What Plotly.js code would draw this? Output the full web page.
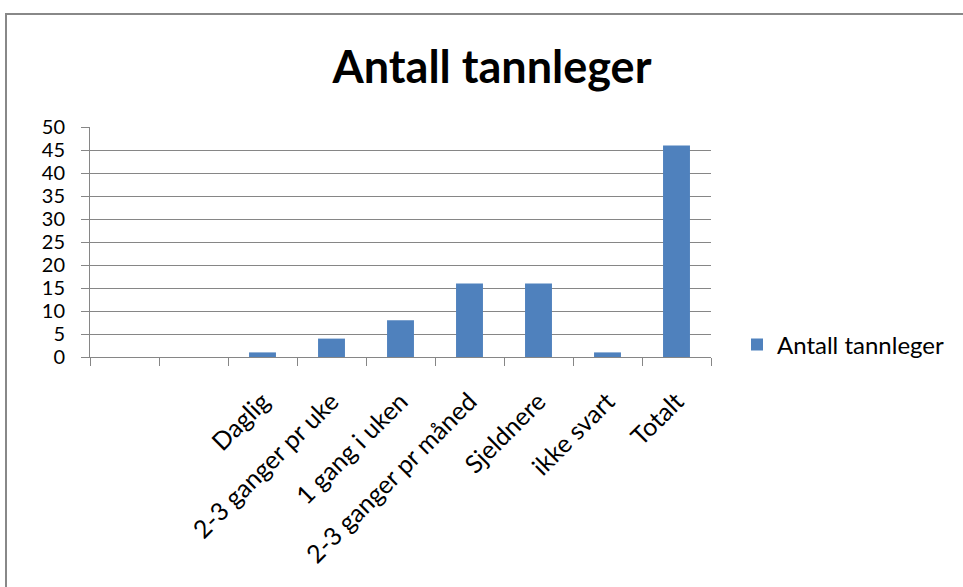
<!DOCTYPE html>
<html>
<head>
<meta charset="utf-8">
<script src="https://cdn.plot.ly/plotly-3.0.1.min.js"></script>
<style>html,body{margin:0;padding:0;background:#fff;}#chart{width:963px;height:587px;}</style>
</head>
<body>
<div id="chart"></div>
<script>
var categories = ["\u00a0", "\u00a0\u00a0", "Daglig", "2-3 ganger pr uke", "1 gang i uken", "2-3 ganger pr måned", "Sjeldnere", "ikke svart", "Totalt"];
var values = [null, null, 1, 4, 8, 16, 16, 1, 46];
var seriesName = "Antall tannleger";
var chartTitle = "Antall tannleger";
var yTicks = [0, 5, 10, 15, 20, 25, 30, 35, 40, 45, 50];

var FONT = "Lato, 'Open Sans', sans-serif";
var grid = "#868686";
var L = 90, R = 711, T = 127, B = 357;
function px(x){ return (x - L) / (R - L); }
function py(y){ return (B - y) / (B - T); }

var trace = {
  type: "bar",
  x: categories,
  y: values,
  name: seriesName,
  marker: { color: "#4F81BD" },
  showlegend: true,
  hoverinfo: "x+y"
};

var layout = {
  width: 963, height: 587,
  margin: { l: L, r: 963 - R, t: T, b: 587 - B, pad: 0 },
  paper_bgcolor: "#fff", plot_bgcolor: "#fff",
  font: { family: FONT, color: "#000", size: 18 },
  title: { text: "<b>" + chartTitle + "</b>", font: { family: FONT, size: 45, color: "#000" },
           x: 492 / 963, xanchor: "center", xref: "container", y: 1 - 67 / 587, yanchor: "middle", yref: "container" },
  bargap: 0.61,
  xaxis: {
    type: "category", categoryorder: "array", categoryarray: categories,
    range: [-0.5, categories.length - 0.5],
    tickson: "boundaries", ticks: "outside", ticklen: 8, tickcolor: grid, tickwidth: 1,
    showline: true, linecolor: grid, linewidth: 1,
    showgrid: false, zeroline: false,
    tickangle: -45, tickfont: { size: 25, family: FONT }, ticklabelstandoff: 19,
    fixedrange: true
  },
  yaxis: {
    range: [0, 50], tickvals: yTicks, ticktext: yTicks.map(String),
    ticks: "outside", ticklen: 8, tickcolor: grid, tickwidth: 1,
    showline: true, linecolor: grid, linewidth: 1,
    showgrid: true, gridcolor: grid, gridwidth: 1, zeroline: false,
    tickfont: { size: 20, family: FONT }, ticklabelstandoff: 12,
    fixedrange: true
  },
  legend: {
    x: px(737), xanchor: "left", y: py(345), yanchor: "middle",
    font: { size: 24, family: FONT }, bgcolor: "rgba(0,0,0,0)",
    itemwidth: 30, tracegroupgap: 0
  },
  shapes: [{
    type: "rect", xref: "paper", yref: "paper",
    x0: px(6), x1: px(975), y0: py(600), y1: py(14),
    line: { color: "#888888", width: 2 }, fillcolor: "rgba(0,0,0,0)", layer: "below"
  }]
};

Plotly.newPlot("chart", [trace], layout, { displayModeBar: false, staticPlot: true });
</script>
</body>
</html>
